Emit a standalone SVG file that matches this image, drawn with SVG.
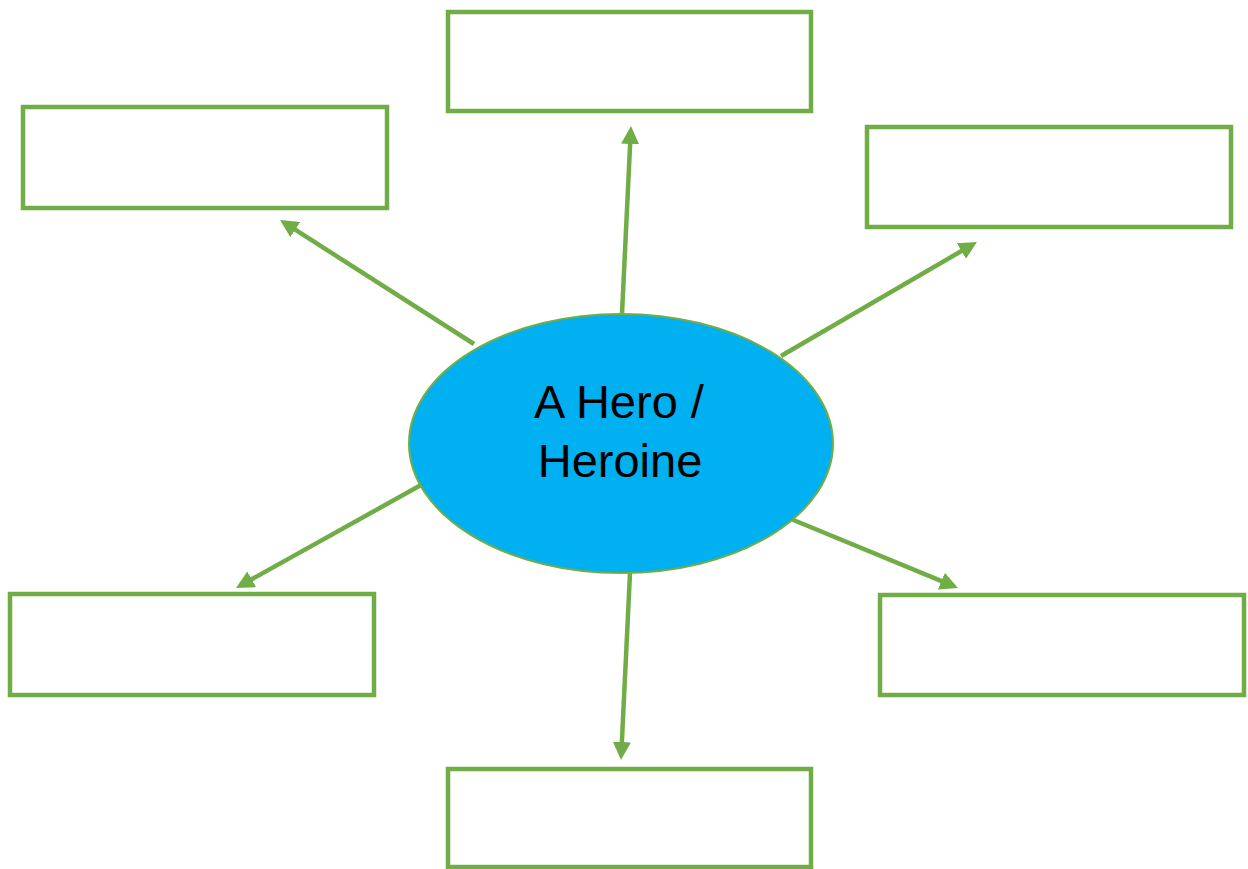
<svg xmlns="http://www.w3.org/2000/svg" width="1248" height="869" viewBox="0 0 1248 869">
  <style>
    .box { fill: #ffffff; stroke: #70AD47; stroke-width: 4.5; }
    .conn { stroke: #70AD47; stroke-width: 4.5; fill: none; marker-end: url(#arrow); }
    .label { font-family: "Liberation Sans", Arial, sans-serif; font-size: 47px; fill: #000000; text-anchor: middle; }
  </style>
  <defs>
    <marker id="arrow" viewBox="0 0 10 10" refX="6.67" refY="5" markerWidth="4" markerHeight="4" orient="auto" markerUnits="strokeWidth">
      <path d="M0,0 L10,5 L0,10 z" fill="#70AD47"/>
    </marker>
  </defs>
  <rect width="1248" height="869" fill="#ffffff"/>
  <g id="node-top"><rect class="box" x="448" y="12" width="363" height="99"/></g>
  <g id="node-top-left"><rect class="box" x="23" y="107" width="364" height="101"/></g>
  <g id="node-top-right"><rect class="box" x="867" y="127" width="364" height="100"/></g>
  <g id="node-bottom-left"><rect class="box" x="10" y="594" width="364" height="101"/></g>
  <g id="node-bottom-right"><rect class="box" x="880" y="595" width="364" height="100"/></g>
  <g id="node-bottom"><rect class="box" x="448" y="769" width="363" height="98"/></g>
  <g id="connectors">
    <line class="conn" x1="474" y1="344" x2="285.1" y2="223.2"/>
    <line class="conn" x1="622" y1="314" x2="630.7" y2="132"/>
    <line class="conn" x1="781" y1="356" x2="971.8" y2="245"/>
    <line class="conn" x1="421" y1="485" x2="241.2" y2="585.1"/>
    <line class="conn" x1="791" y1="519" x2="952.5" y2="585.7"/>
    <line class="conn" x1="630" y1="573" x2="621.3" y2="754"/>
  </g>
  <g id="node-center">
    <ellipse cx="621" cy="443.5" rx="212" ry="129.5" fill="#00B0F0" stroke="#70AD47" stroke-width="2"/>
    <text class="label" x="619" y="418">A Hero /</text>
    <text class="label" x="620" y="477">Heroine</text>
  </g>
</svg>
